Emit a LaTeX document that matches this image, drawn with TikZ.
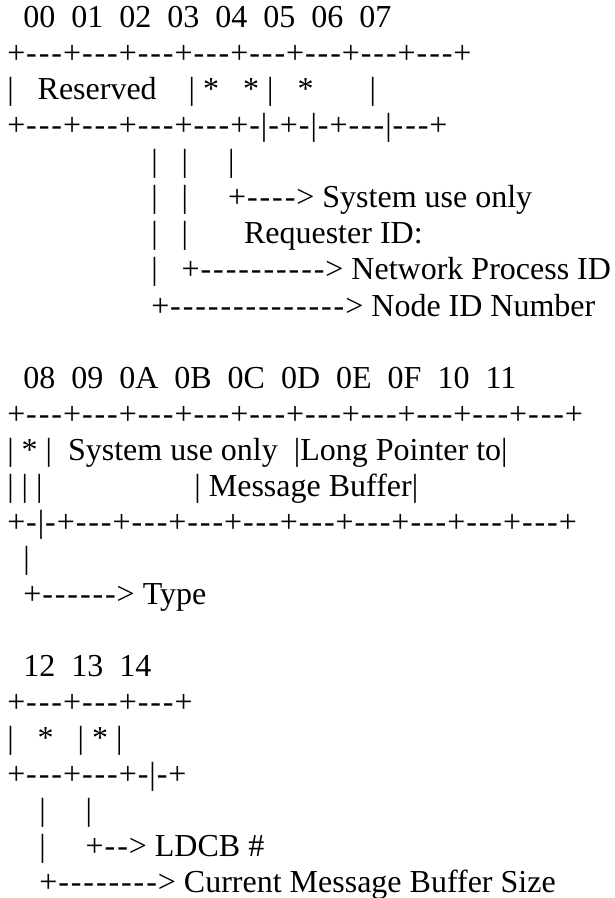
\documentclass[tikz,border=0pt]{standalone}
\usepackage{fontspec}
\newfontfamily\asciifont{Liberation Serif}
% hyphens in the drawing run a little wider than the font gives them
\XeTeXinterchartokenstate=1
\newXeTeXintercharclass\dashclass
\XeTeXcharclass`\-=\dashclass
\XeTeXinterchartoks 0 \dashclass={\kern.03em}
\XeTeXinterchartoks \dashclass 0={\kern.03em}
\XeTeXinterchartoks \dashclass \dashclass={\kern.06em}

\begin{document}
\begin{tikzpicture}[
  x=0.75pt, y=-0.75pt,
  ascii/.style={anchor=base west, inner sep=0pt, font=\asciifont\fontsize{24}{27}\selectfont\obeyspaces}
]
\useasboundingbox (0,0) rectangle (614,898);

% octets 00-07
\node[ascii] (hdrA) at (7,28) {{}  00  01  02  03  04  05  06  07};
\node[ascii] (topA) at (7,64) {{}+---+---+---+---+---+---+---+---+};
\node[ascii] (rowA) at (7,100) {{}|   Reserved    | *   * |   *       |};
\node[ascii] (botA) at (7,136) {{}+---+---+---+---+-|-+-|-+---|---+};
\node[ascii] (legA1) at (7,172) {{}                  |   |     |};
\node[ascii] (legA2) at (7,208) {{}                  |   |     +----> System use only};
\node[ascii] (legA3) at (7,244) {{}                  |   |       Requester ID:};
\node[ascii] (legA4) at (7,280) {{}                  |   +----------> Network Process ID};
\node[ascii] (legA5) at (7,316) {{}                  +--------------> Node ID Number};

% octets 08-11
\node[ascii] (hdrB) at (7,388) {{}  08  09  0A  0B  0C  0D  0E  0F  10  11};
\node[ascii] (topB) at (7,424) {{}+---+---+---+---+---+---+---+---+---+---+};
\node[ascii] (rowB1) at (7,460) {{}| * |  System use only  |Long Pointer to|};
\node[ascii] (rowB2) at (7,496) {{}| | |                   | Message Buffer|};
\node[ascii] (botB) at (7,532) {{}+-|-+---+---+---+---+---+---+---+---+---+};
\node[ascii] (legB1) at (7,568) {{}  |};
\node[ascii] (legB2) at (7,604) {{}  +------> Type};

% octets 12-14
\node[ascii] (hdrC) at (7,676) {{}  12  13  14};
\node[ascii] (topC) at (7,712) {{}+---+---+---+};
\node[ascii] (rowC) at (7,748) {{}|   *   | * |};
\node[ascii] (botC) at (7,784) {{}+---+---+-|-+};
\node[ascii] (legC1) at (7,820) {{}    |     |};
\node[ascii] (legC2) at (7,856) {{}    |     +--> LDCB \#};
\node[ascii] (legC3) at (7,892) {{}    +--------> Current Message Buffer Size};
\end{tikzpicture}
\end{document}
